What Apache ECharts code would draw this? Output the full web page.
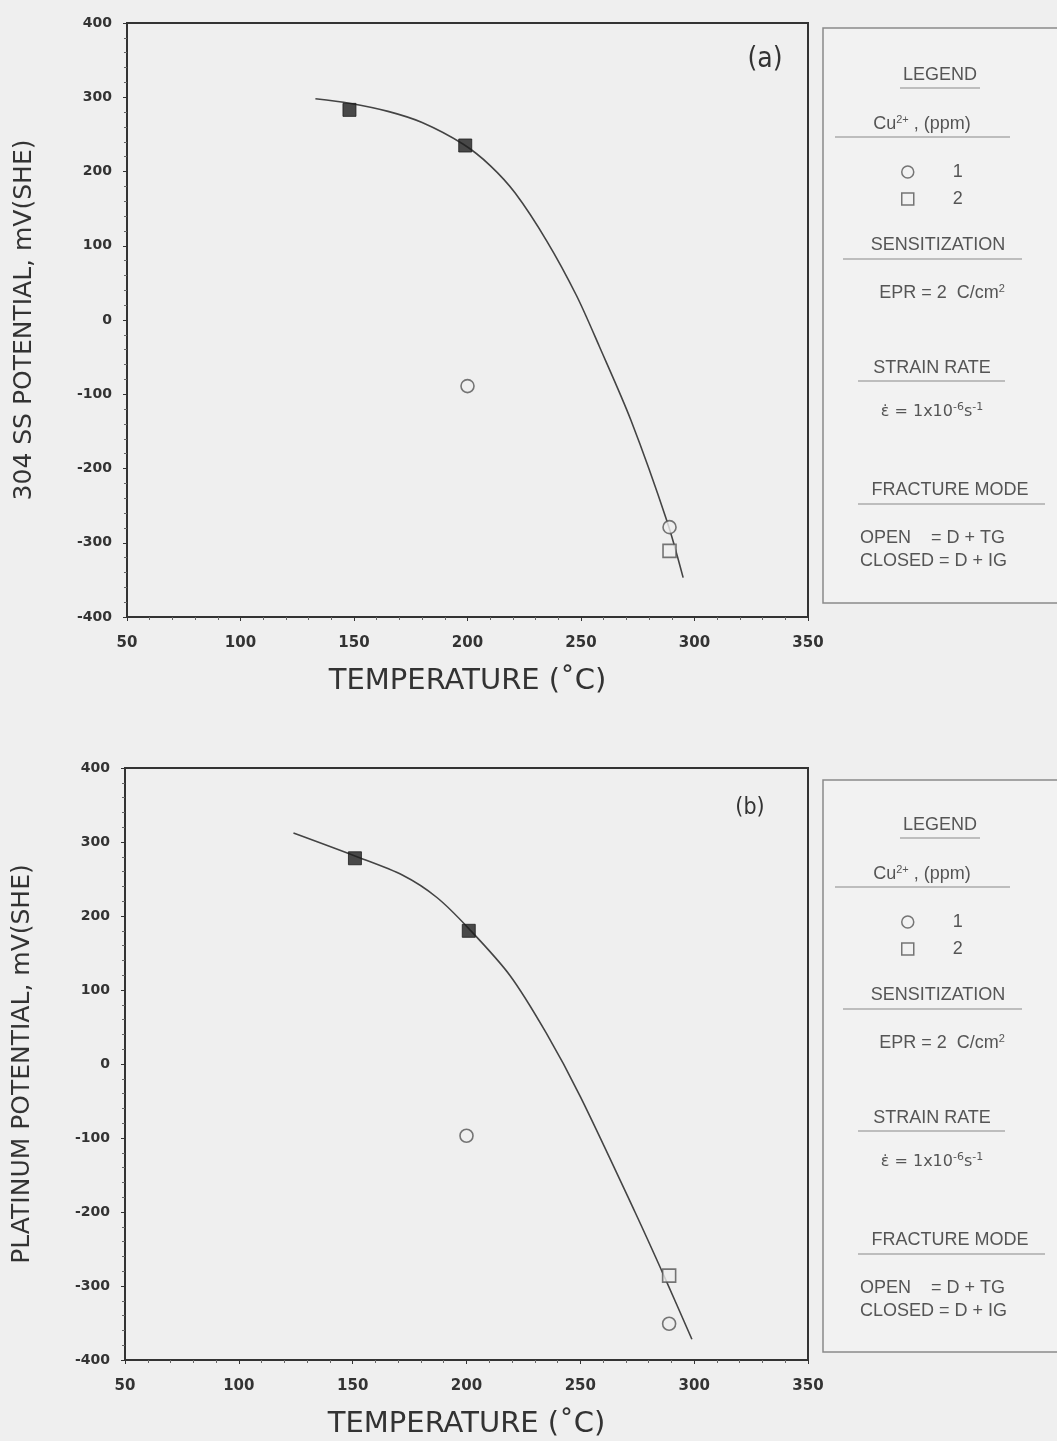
<!DOCTYPE html>
<html>
<head>
<meta charset="utf-8">
<script src="https://cdn.jsdelivr.net/npm/echarts@6/dist/echarts.min.js"></script>
<style>
  html, body { margin: 0; padding: 0; background: #efefef; }
  #chart { width: 1057px; height: 1441px; }
</style>
</head>
<body>
<div id="chart"></div>
<script>
// temperature axis and potential axis
var tempMin = 50, tempMax = 350, tempStep = 50;
var potMin = -400, potMax = 400, potStep = 100;

// (a) 304 SS potential
var fitA = [[133, 298], [148, 292], [165, 281], [180, 266], [198, 237], [210, 208], [221, 171],
            [235, 106], [248, 33], [258, -35], [272, -135], [288, -272], [295, -347]];
var cu1A = [[200, -89], [289, -279]];
var cu2OpenA = [[289, -311]];
var cu2ClosedA = [[148, 283], [199, 235]];

// (b) platinum potential
var fitB = [[124, 312], [151, 281], [172, 255], [187, 225], [201, 183], [219, 120], [235, 42],
            [250, -44], [274, -200], [287, -288], [299, -372]];
var cu1B = [[200, -97], [289, -351]];
var cu2OpenB = [[289, -286]];
var cu2ClosedB = [[151, 278], [201, 180]];

var yNames = ['304 SS POTENTIAL, mV(SHE)', 'PLATINUM POTENTIAL, mV(SHE)'];
var xName = 'TEMPERATURE (\u02DAC)';

var ink = '#333';
var soft = '#555';
var boxFont = '"Liberation Sans", Arial, sans-serif';
var tagFont = '"Liberation Sans Narrow", "DejaVu Sans Condensed", sans-serif';

var myChart = echarts.init(document.getElementById('chart'));

function xAxisFor(idx) {
  return {
    type: 'value', gridIndex: idx, min: tempMin, max: tempMax, interval: tempStep,
    name: xName, nameLocation: 'middle', nameGap: 50,
    nameTextStyle: { fontFamily: 'DejaVu Sans', fontSize: 29, color: ink },
    axisLine: { onZero: false, lineStyle: { color: ink, width: 2 } },
    axisTick: { show: true, length: 4, lineStyle: { color: ink } },
    minorTick: { show: true, splitNumber: 5, length: 3, lineStyle: { color: '#666' } },
    axisLabel: { fontFamily: 'DejaVu Sans', fontWeight: 'bold', fontSize: 15, color: ink, margin: 19 },
    splitLine: { show: false }
  };
}

function yAxisFor(idx) {
  return {
    type: 'value', gridIndex: idx, min: potMin, max: potMax, interval: potStep,
    name: yNames[idx], nameLocation: 'middle', nameGap: 90, nameRotate: 90,
    nameTextStyle: { fontFamily: 'DejaVu Sans', fontSize: 25, color: ink },
    axisLine: { onZero: false, lineStyle: { color: ink, width: 2 } },
    axisTick: { show: true, length: 4, lineStyle: { color: ink } },
    minorTick: { show: true, splitNumber: 5, length: 3, lineStyle: { color: '#666' } },
    axisLabel: { fontFamily: 'DejaVu Sans', fontWeight: 'bold', fontSize: 14, color: ink, margin: 15 },
    splitLine: { show: false }
  };
}

function fitSeries(idx, data) {
  return {
    name: 'fit', type: 'line', xAxisIndex: idx, yAxisIndex: idx, data: data,
    smooth: 0.3, showSymbol: false, silent: true,
    lineStyle: { color: '#444', width: 1.6 }, z: 2
  };
}
function markerSeries(idx, name, data, symbol, filled) {
  return {
    name: name, type: 'scatter', xAxisIndex: idx, yAxisIndex: idx, data: data,
    symbol: symbol, symbolSize: 13,
    itemStyle: filled
      ? { color: '#1e1e1e', borderColor: '#1e1e1e', borderWidth: 1 }
      : { color: '#efefef', borderColor: '#555', borderWidth: 1.6 },
    z: 3
  };
}

// legend box drawn as graphic (text + rules); dy shifts the box for panel b
function legendBox(top, height, dy) {
  var t = function (x, y, text, size, align, family) {
    return {
      type: 'text', x: x, y: y + dy,
      style: {
        text: text, fill: soft, font: (size || 18) + 'px ' + (family || boxFont),
        textAlign: align || 'center', textVerticalAlign: 'middle',
        rich: {
          sup: { fontSize: 11, fill: soft, fontFamily: family || boxFont, verticalAlign: 'top', padding: [0, 0, 9, 0] }
        }
      }
    };
  };
  var rule = function (x1, x2, y) {
    return { type: 'line', shape: { x1: x1, y1: y + dy, x2: x2, y2: y + dy }, style: { stroke: '#888', lineWidth: 1 } };
  };
  return [
    { type: 'rect', shape: { x: 823, y: top, width: 250, height: height },
      style: { fill: '#f2f2f2', stroke: '#8a8a8a', lineWidth: 1.5 }, z: -1 },
    t(940, 75, 'LEGEND'), rule(900, 980, 88),
    t(922, 124, 'Cu{sup|2+} , (ppm)'), rule(835, 1010, 137),
    t(938, 245, 'SENSITIZATION'), rule(843, 1022, 259),
    t(942, 293, 'EPR = 2  C/cm{sup|2}'),
    t(932, 368, 'STRAIN RATE'), rule(858, 1005, 381),
    t(932, 412, '\u03B5\u0307 = 1x10{sup|-6}s{sup|-1}', 16, 'center', 'DejaVu Sans'),
    t(950, 490, 'FRACTURE MODE'), rule(858, 1045, 504),
    t(860, 538, 'OPEN    = D + TG', 18, 'left'),
    t(860, 561, 'CLOSED = D + IG', 18, 'left')
  ];
}

function legendFor(top) {
  return {
    orient: 'vertical', left: 896, top: top, itemWidth: 12, itemHeight: 12, itemGap: 9,
    selectedMode: false,
    textStyle: { fontFamily: boxFont, fontSize: 18, color: soft, padding: [0, 0, 0, 34] },
    data: [
      { name: '1', icon: 'circle', itemStyle: { color: 'transparent', borderColor: '#555', borderWidth: 1.5 } },
      { name: '2', icon: 'rect', itemStyle: { color: 'transparent', borderColor: '#555', borderWidth: 1.5 } }
    ]
  };
}

var option = {
  backgroundColor: '#efefef',
  animation: false,
  grid: [
    { left: 127, right: 249, top: 23, height: 594, show: true, borderColor: ink, borderWidth: 2, backgroundColor: 'transparent' },
    { left: 125, right: 249, top: 768, height: 592, show: true, borderColor: ink, borderWidth: 2, backgroundColor: 'transparent' }
  ],
  xAxis: [xAxisFor(0), xAxisFor(1)],
  yAxis: [yAxisFor(0), yAxisFor(1)],
  legend: [legendFor(158), legendFor(908)],
  series: [
    fitSeries(0, fitA),
    markerSeries(0, '1', cu1A, 'circle', false),
    markerSeries(0, '2', cu2OpenA, 'rect', false),
    markerSeries(0, '2 (IG)', cu2ClosedA, 'rect', true),
    fitSeries(1, fitB),
    markerSeries(1, '1', cu1B, 'circle', false),
    markerSeries(1, '2', cu2OpenB, 'rect', false),
    markerSeries(1, '2 (IG)', cu2ClosedB, 'rect', true)
  ],
  graphic: [].concat(
    legendBox(28, 575, 0),
    legendBox(780, 572, 750),
    [
      { type: 'text', x: 765, y: 60, style: { text: '(a)', font: '28px ' + tagFont, fill: ink, textAlign: 'center', textVerticalAlign: 'middle' } },
      { type: 'text', x: 750, y: 808, style: { text: '(b)', font: '23px ' + tagFont, fill: ink, textAlign: 'center', textVerticalAlign: 'middle' } }
    ]
  )
};

myChart.setOption(option);
</script>
</body>
</html>
